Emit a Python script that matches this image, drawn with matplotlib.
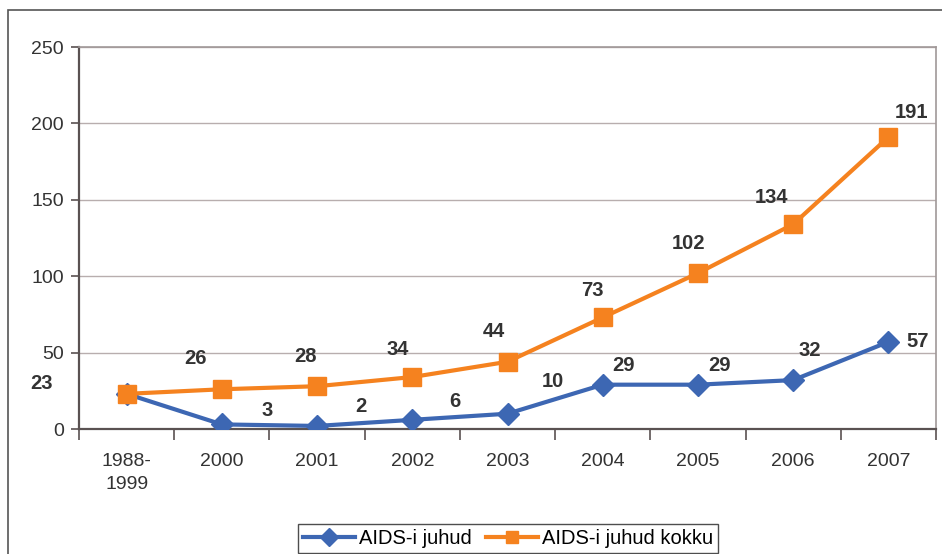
import matplotlib
matplotlib.use('Agg')
import matplotlib.pyplot as plt
from matplotlib.patches import Rectangle

plt.rcParams['font.family'] = ['Liberation Sans', 'DejaVu Sans']

categories = ['1988-\n1999', '2000', '2001', '2002', '2003', '2004', '2005', '2006', '2007']
aids_cases = [23, 3, 2, 6, 10, 29, 29, 32, 57]
aids_total = [23, 26, 28, 34, 44, 73, 102, 134, 191]
series_names = ['AIDS-i juhud', 'AIDS-i juhud kokku']

# label offsets in pixels (dx, dy up)
total_offsets = [(-85, 10), (-26, 31), (-12, 30), (-15, 28), (-14, 30),
                 (-10, 27), (-9, 30), (-22, 27), (23, 25)]
cases_offsets = [None, (45, 14), (44, 19), (43, 18), (45, 32),
                 (21, 19), (22, 19), (17, 30), (29, 0)]

blue = '#3d67b3'
orange = '#f5821f'
grid_c = '#b8aeae'
axis_c = '#5a5252'

fig = plt.figure(figsize=(9.42, 5.54), dpi=100)
fig.patches.append(Rectangle((8 / 942, -0.1), 1.0, 1 - 10 / 554 + 0.1,
                             transform=fig.transFigure, fill=False,
                             edgecolor='#555555', linewidth=1.2))
ax = fig.add_axes([79 / 942, 1 - 429 / 554, (936 - 79) / 942, (429 - 47) / 554])

x = list(range(len(categories)))
l1, = ax.plot(x, aids_cases, color=blue, linewidth=3, marker='D', markersize=11,
              label=series_names[0], zorder=3)
l2, = ax.plot(x, aids_total, color=orange, linewidth=3, marker='s', markersize=13.5,
              label=series_names[1], zorder=4)

for xi, v, off in zip(x, aids_total, total_offsets):
    ax.annotate(str(v), (xi, v), xytext=off, textcoords='offset pixels',
                ha='center', va='center', fontsize=14.5, fontweight='bold', color='#333333')
for xi, v, off in zip(x, aids_cases, cases_offsets):
    if off is None:
        continue
    ax.annotate(str(v), (xi, v), xytext=off, textcoords='offset pixels',
                ha='center', va='center', fontsize=14.5, fontweight='bold', color='#333333')

ax.set_xlim(-0.5, len(categories) - 0.5)
ax.set_ylim(0, 250)
ax.set_yticks(range(0, 251, 50))
ax.yaxis.grid(True, color=grid_c, linewidth=1)
ax.set_axisbelow(True)

ax.set_xticks(x)
ax.set_xticklabels(categories, fontsize=14, color='#333333', linespacing=1.5)
ax.set_xticks([i - 0.5 for i in range(len(categories) + 1)], minor=True)
ax.tick_params(axis='x', which='major', length=0, pad=17)
ax.tick_params(axis='x', which='minor', length=8, width=1.2, color=axis_c, direction='out')
ax.tick_params(axis='y', length=6, width=1.2, color=axis_c, labelsize=14,
               labelcolor='#333333', pad=5)

for s in ['left', 'bottom']:
    ax.spines[s].set_color(axis_c)
    ax.spines[s].set_linewidth(1.6)
for s in ['top', 'right']:
    ax.spines[s].set_color('#a09898')
    ax.spines[s].set_linewidth(1.2)

leg = fig.legend(handles=[l1, l2], loc='lower center', bbox_to_anchor=(508 / 942, 0.0),
                 ncol=2, fontsize=14.5, frameon=True, fancybox=False,
                 handlelength=2.6, handletextpad=0.2, columnspacing=0.7,
                 borderpad=0.25, borderaxespad=0.05)
leg.get_frame().set_edgecolor('#222222')
leg.get_frame().set_linewidth(1.0)
for h in leg.legend_handles:
    h.set_markersize(9)

fig.savefig('out.png', dpi=100)
